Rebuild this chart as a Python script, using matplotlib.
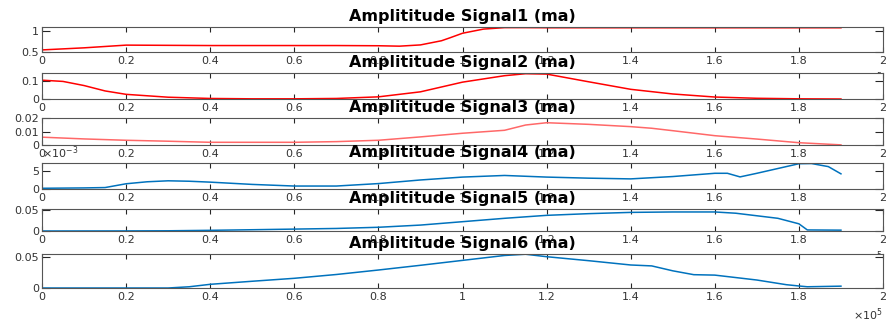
import numpy as np
import matplotlib
matplotlib.use("Agg")
import matplotlib.pyplot as plt

# ---------------- data (x in units of 1e5) ----------------
x1 = [0, 0.1, 0.2, 0.3, 0.4, 0.5, 0.6, 0.7, 0.8, 0.85, 0.9, 0.95, 0.97, 1.0, 1.05, 1.1, 1.15, 1.2, 1.4, 1.6, 1.8, 1.9]
y1 = [0.55, 0.60, 0.665, 0.66, 0.655, 0.655, 0.655, 0.655, 0.65, 0.64, 0.67, 0.77, 0.84, 0.95, 1.05, 1.085, 1.085, 1.082, 1.082, 1.082, 1.082, 1.082]

x2 = [0, 0.05, 0.1, 0.15, 0.2, 0.3, 0.4, 0.5, 0.6, 0.7, 0.8, 0.9, 1.0, 1.1, 1.15, 1.2, 1.3, 1.4, 1.5, 1.6, 1.7, 1.8, 1.9]
y2 = [0.105, 0.098, 0.075, 0.045, 0.026, 0.01, 0.003, 0.001, 0.001, 0.003, 0.012, 0.04, 0.094, 0.13, 0.141, 0.139, 0.096, 0.054, 0.028, 0.011, 0.004, 0.001, 0.0]

x3 = [0, 0.1, 0.2, 0.3, 0.4, 0.5, 0.6, 0.7, 0.8, 0.9, 1.0, 1.1, 1.15, 1.2, 1.3, 1.4, 1.45, 1.5, 1.6, 1.7, 1.8, 1.9]
y3 = [0.0058, 0.0045, 0.0035, 0.0028, 0.002, 0.002, 0.002, 0.0025, 0.0035, 0.006, 0.0087, 0.0109, 0.0148, 0.0165, 0.0153, 0.0136, 0.0124, 0.0106, 0.0069, 0.0044, 0.0017, 0.0001]

x4 = [0, 0.1, 0.15, 0.2, 0.25, 0.3, 0.35, 0.4, 0.5, 0.6, 0.7, 0.8, 0.9, 1.0, 1.1, 1.2, 1.3, 1.4, 1.5, 1.6, 1.63, 1.66, 1.7, 1.8, 1.83, 1.87, 1.9]
y4 = [0.2, 0.3, 0.4, 1.45, 2.0, 2.27, 2.15, 1.9, 1.27, 0.82, 0.82, 1.5, 2.5, 3.3, 3.75, 3.3, 3.0, 2.8, 3.45, 4.35, 4.35, 3.35, 4.35, 7.0, 7.05, 6.2, 4.2]
y4 = [v * 1e-3 for v in y4]

x5 = [0, 0.2, 0.3, 0.4, 0.5, 0.6, 0.7, 0.8, 0.9, 1.0, 1.1, 1.2, 1.3, 1.4, 1.5, 1.6, 1.65, 1.7, 1.75, 1.8, 1.82, 1.9]
y5 = [0, 0.0002, 0.0005, 0.0016, 0.003, 0.0045, 0.006, 0.0088, 0.014, 0.022, 0.030, 0.037, 0.041, 0.044, 0.045, 0.045, 0.042, 0.036, 0.030, 0.017, 0.0025, 0.002]

x6 = [0, 0.2, 0.3, 0.35, 0.4, 0.5, 0.6, 0.7, 0.8, 0.9, 1.0, 1.1, 1.15, 1.2, 1.3, 1.4, 1.45, 1.5, 1.55, 1.6, 1.7, 1.77, 1.8, 1.82, 1.9]
y6 = [0, 0, 0, 0.002, 0.006, 0.011, 0.0158, 0.022, 0.0293, 0.037, 0.045, 0.053, 0.055, 0.051, 0.0445, 0.0375, 0.036, 0.028, 0.0217, 0.021, 0.013, 0.0054, 0.0033, 0.002, 0.003]

titles = ["Amplititude Signal1 (ma)", "Amplititude Signal2 (ma)", "Amplititude Signal3 (ma)",
          "Amplititude Signal4 (ma)", "Amplititude Signal5 (ma)", "Amplititude Signal6 (ma)"]

xtick_vals = [0, 0.2, 0.4, 0.6, 0.8, 1.0, 1.2, 1.4, 1.6, 1.8, 2.0]
xtick_labels = ["0", "0.2", "0.4", "0.6", "0.8", "1", "1.2", "1.4", "1.6", "1.8", "2"]

ytick_vals = [[0.5, 1.0], [0, 0.1], [0, 0.01, 0.02], [0, 5e-3], [0, 0.05], [0, 0.05]]
ytick_labels = [["0.5", "1"], ["0", "0.1"], ["0", "0.01", "0.02"], ["0", "5"], ["0", "0.05"], ["0", "0.05"]]
ylims = [(0.5, 1.1), (0, 0.145), (0, 0.02), (0, 7.2e-3), (0, 0.052), (0, 0.0554)]

colors = ["#ff0000", "#ff0000", "#ff6868", "#0072bd", "#0072bd", "#0072bd"]

# ---------------- layout ----------------
W, H = 887, 322
boxes_px = [(27, 52), (73, 99), (118, 145), (163, 189), (209, 231), (254, 288)]
left_px, right_px = 42, 883

fig = plt.figure(figsize=(W / 100, H / 100), dpi=100)
xs = [x1, x2, x3, x4, x5, x6]
ys = [y1, y2, y3, y4, y5, y6]
tick_col = "#333333"
fs = 8

for i in range(6):
    top, bot = boxes_px[i]
    ax = fig.add_axes([left_px / W, 1 - bot / H, (right_px - left_px) / W, (bot - top) / H])
    xv = np.array(xs[i]) * 1e5
    ax.plot(xv, ys[i], color=colors[i], lw=1.1)
    ax.set_xlim(0, 2e5)
    ax.set_ylim(*ylims[i])
    ax.set_xticks([v * 1e5 for v in xtick_vals])
    ax.set_xticklabels(xtick_labels)
    ax.set_yticks(ytick_vals[i])
    ax.set_yticklabels(ytick_labels[i])
    ax.tick_params(axis="x", direction="in", length=3.5, width=0.8, top=True, bottom=True,
                   labelsize=fs, labelcolor=tick_col, color="#262626", pad=3)
    ax.tick_params(axis="y", direction="in", length=6, width=0.8, left=True, right=True,
                   labelsize=fs, labelcolor=tick_col, color="#262626", pad=2)
    for s in ax.spines.values():
        s.set_color("#555555")
        s.set_linewidth(0.8)
    ax.set_title(titles[i], fontsize=11.5, fontweight="bold", family="DejaVu Sans", pad=4.0)
    ax.annotate(r"$\times10^{5}$", xy=(1, 0), xycoords="axes fraction", xytext=(0, -13),
                textcoords="offset points", ha="right", va="top", fontsize=fs, color=tick_col)
    if i == 3:
        ax.annotate(r"$\times10^{-3}$", xy=(0, 1), xycoords="axes fraction", xytext=(0, 1.5),
                    textcoords="offset points", ha="left", va="bottom", fontsize=fs, color=tick_col)

fig.savefig("out.png", dpi=100, facecolor="white")
